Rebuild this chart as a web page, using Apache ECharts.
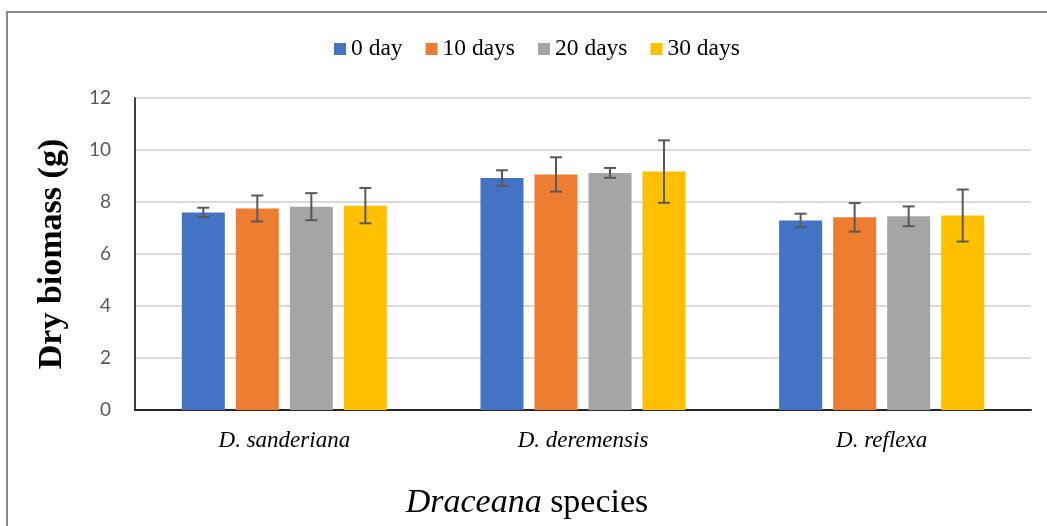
<!DOCTYPE html>
<html>
<head>
<meta charset="utf-8">
<script src="https://cdn.jsdelivr.net/npm/echarts@6/dist/echarts.min.js"></script>
<style>
html,body{margin:0;padding:0;background:#fff;}
#chart{width:1047px;height:526px;}
</style>
</head>
<body>
<div id="chart"></div>
<script>
// ---- data ----
var categories = ['D. sanderiana', 'D. deremensis', 'D. reflexa'];
var seriesNames = ['0 day', '10 days', '20 days', '30 days'];
var day0  = [7.60, 8.92, 7.29];
var day10 = [7.75, 9.06, 7.41];
var day20 = [7.82, 9.12, 7.45];
var day30 = [7.86, 9.17, 7.48];
var err0  = [0.18, 0.30, 0.26];
var err10 = [0.50, 0.66, 0.55];
var err20 = [0.52, 0.19, 0.38];
var err30 = [0.68, 1.20, 1.00];
var yTicks = [0, 2, 4, 6, 8, 10, 12];

var colors = ['#4472C4', '#ED7D31', '#A5A5A5', '#FFC000'];
var means = [day0, day10, day20, day30];
var errs = [err0, err10, err20, err30];

var BAR_FRAC = 0.144;
var GAP_FRAC = 0.256;

var chart = echarts.init(document.getElementById('chart'), null, {renderer: 'canvas'});

var series = [];
means.forEach(function (m, i) {
  series.push({
    name: seriesNames[i],
    type: 'bar',
    data: m,
    barWidth: (BAR_FRAC * 100) + '%',
    barGap: (GAP_FRAC * 100) + '%',
    itemStyle: {color: colors[i]}
  });
});
means.forEach(function (m, i) {
  var d = m.map(function (v, k) { return [k, v, errs[i][k]]; });
  series.push({
    type: 'custom',
    name: 'err' + i,
    data: d,
    z: 10,
    silent: true,
    renderItem: function (params, api) {
      var k = api.value(0), v = api.value(1), e = api.value(2);
      var band = api.size([1, 0])[0];
      var bw = band * BAR_FRAC;
      var step = bw * (1 + GAP_FRAC);
      var off = (i - 1.5) * step;
      var top = api.coord([k, v + e]);
      var bot = api.coord([k, v - e]);
      var x = top[0] + off;
      var cap = 6;
      var st = {stroke: '#595959', lineWidth: 2};
      return {
        type: 'group',
        children: [
          {type: 'line', shape: {x1: x, y1: top[1], x2: x, y2: bot[1]}, style: st},
          {type: 'line', shape: {x1: x - cap, y1: top[1], x2: x + cap, y2: top[1]}, style: st},
          {type: 'line', shape: {x1: x - cap, y1: bot[1], x2: x + cap, y2: bot[1]}, style: st}
        ]
      };
    }
  });
});

var option = {
  animation: false,
  backgroundColor: '#fff',
  color: colors,
  graphic: [{
    type: 'rect',
    shape: {x: 7, y: 12, width: 1100, height: 600},
    style: {fill: 'none', stroke: '#898989', lineWidth: 2},
    silent: true,
    z: 100
  }],
  legend: {
    data: seriesNames,
    left: 329,
    top: 32,
    icon: 'rect',
    itemWidth: 12,
    itemHeight: 12,
    itemGap: 23,
    textStyle: {fontFamily: 'Liberation Serif', fontSize: 23.5, color: '#000'}
  },
  grid: {left: 135, right: 16, top: 98, bottom: 116, containLabel: false},
  xAxis: {
    type: 'category',
    data: categories,
    axisLine: {show: true, lineStyle: {color: '#262626', width: 2}},
    axisTick: {show: false},
    axisLabel: {
      margin: 19,
      fontFamily: 'Liberation Serif',
      fontStyle: 'italic',
      fontSize: 23,
      color: '#000'
    },
    name: '{i|Draceana} species',
    nameLocation: 'middle',
    nameGap: 76,
    nameTextStyle: {
      fontFamily: 'Liberation Serif',
      fontSize: 34,
      color: '#000',
      padding: [0, 112, 0, 0],
      rich: {
        i: {fontFamily: 'Liberation Serif', fontStyle: 'italic', fontSize: 34, color: '#000'}
      }
    }
  },
  yAxis: {
    type: 'value',
    min: 0,
    max: 12,
    interval: 2,
    axisLine: {show: true, lineStyle: {color: '#404040', width: 2}},
    axisTick: {show: false},
    splitLine: {show: true, lineStyle: {color: '#d9d9d9', width: 2}},
    axisLabel: {
      margin: 24,
      fontFamily: 'Lato',
      fontSize: 19,
      color: '#595959',
      formatter: function (v) { return yTicks.indexOf(v) >= 0 ? String(v) : ''; }
    },
    name: 'Dry biomass (g)',
    nameLocation: 'middle',
    nameGap: 66,
    nameTextStyle: {fontFamily: 'Liberation Serif', fontWeight: 'bold', fontSize: 34, color: '#000'}
  },
  series: series
};
chart.setOption(option);
</script>
</body>
</html>
